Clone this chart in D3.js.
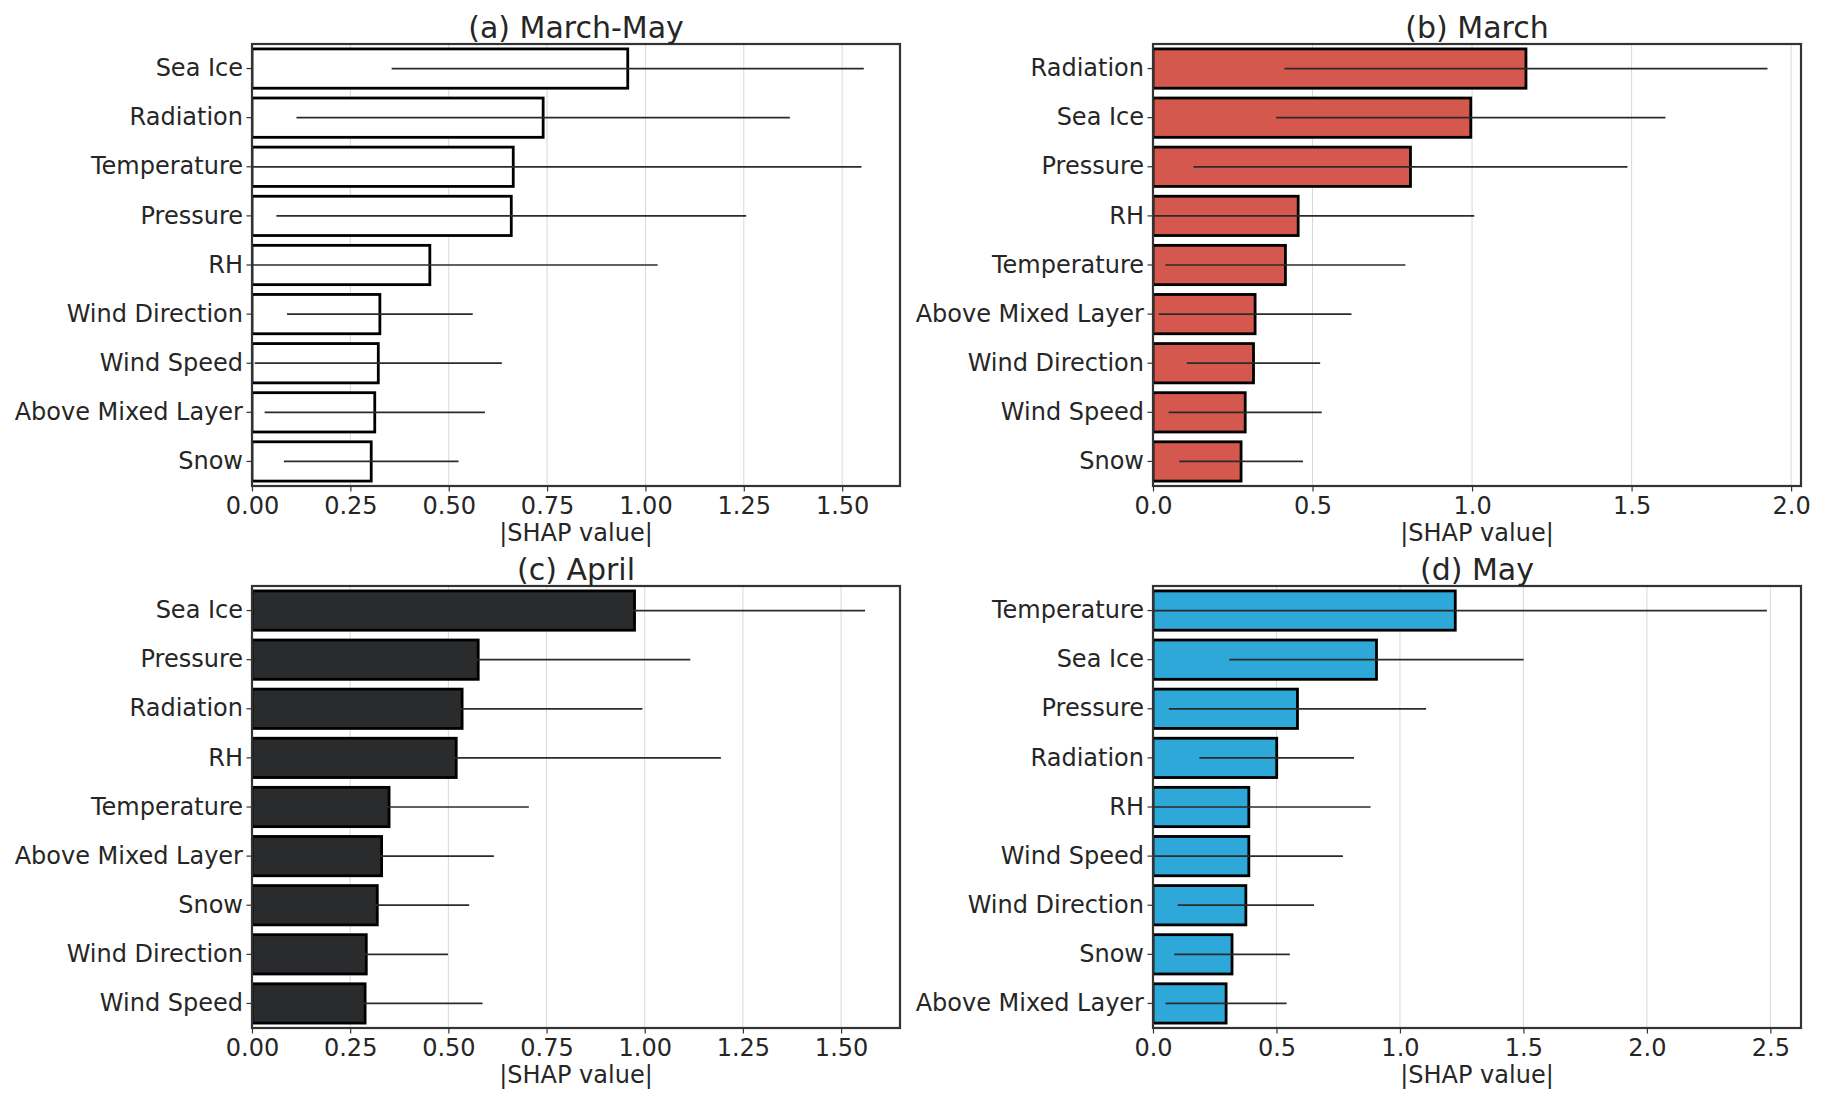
<!DOCTYPE html>
<html>
<head>
<meta charset="utf-8">
<script src="https://cdn.jsdelivr.net/npm/d3@7"></script>
<style>
  body { margin: 0; background: #fff; }
  text { font-family: "DejaVu Sans", sans-serif; fill: #262626; }
</style>
</head>
<body>
<script>
// data: mean |SHAP| and the +/- spread drawn as a line
var featuresA = ["Sea Ice", "Radiation", "Temperature", "Pressure", "RH", "Wind Direction", "Wind Speed", "Above Mixed Layer", "Snow"];
var meanA = [0.955, 0.740, 0.664, 0.659, 0.452, 0.325, 0.321, 0.312, 0.303];
var errA  = [0.600, 0.627, 0.885, 0.597, 0.579, 0.236, 0.314, 0.280, 0.222];

var featuresB = ["Radiation", "Sea Ice", "Pressure", "RH", "Temperature", "Above Mixed Layer", "Wind Direction", "Wind Speed", "Snow"];
var meanB = [1.169, 0.996, 0.807, 0.455, 0.415, 0.320, 0.315, 0.289, 0.276];
var errB  = [0.757, 0.610, 0.680, 0.552, 0.376, 0.302, 0.209, 0.240, 0.194];

var featuresC = ["Sea Ice", "Pressure", "Radiation", "RH", "Temperature", "Above Mixed Layer", "Snow", "Wind Direction", "Wind Speed"];
var meanC = [0.974, 0.576, 0.535, 0.520, 0.349, 0.330, 0.319, 0.291, 0.288];
var errC  = [0.587, 0.540, 0.459, 0.674, 0.356, 0.286, 0.234, 0.208, 0.299];

var featuresD = ["Temperature", "Sea Ice", "Pressure", "Radiation", "RH", "Wind Speed", "Wind Direction", "Snow", "Above Mixed Layer"];
var meanD = [1.224, 0.905, 0.585, 0.501, 0.388, 0.388, 0.376, 0.320, 0.296];
var errD  = [1.262, 0.596, 0.521, 0.313, 0.493, 0.381, 0.276, 0.234, 0.245];

var ticksAC = [0, 0.25, 0.5, 0.75, 1.0, 1.25, 1.5];
var ticksB  = [0, 0.5, 1.0, 1.5, 2.0];
var ticksD  = [0, 0.5, 1.0, 1.5, 2.0, 2.5];

var panels = [
  {title: "(a) March-May", feats: featuresA, mean: meanA, err: errA, xmax: 1.647, ticks: ticksAC, fmt: ".2f", fill: "#ffffff", x0: 252, y0: 44},
  {title: "(b) March",     feats: featuresB, mean: meanB, err: errB, xmax: 2.031, ticks: ticksB,  fmt: ".1f", fill: "#d4584d", x0: 1153, y0: 44},
  {title: "(c) April",     feats: featuresC, mean: meanC, err: errC, xmax: 1.650, ticks: ticksAC, fmt: ".2f", fill: "#2a2b2d", x0: 252, y0: 586},
  {title: "(d) May",       feats: featuresD, mean: meanD, err: errD, xmax: 2.624, ticks: ticksD,  fmt: ".1f", fill: "#2da8d8", x0: 1153, y0: 586}
];

var width = 648, height = 442;

var svg = d3.select("body")
  .append("svg")
    .attr("width", 1824)
    .attr("height", 1104);

panels.forEach(function(p, i) {
  var g = svg.append("g")
    .attr("transform", "translate(" + p.x0 + "," + p.y0 + ")");

  var x = d3.scaleLinear().domain([0, p.xmax]).range([0, width]);
  var y = d3.scaleBand().domain(p.feats).range([0, height])
    .paddingInner(0.2).paddingOuter(0.1);

  var rows = p.feats.map(function(f, j) {
    return {name: f, mean: p.mean[j], err: p.err[j]};
  });

  g.append("clipPath").attr("id", "clip" + i)
    .append("rect").attr("width", width).attr("height", height);

  // grid
  g.selectAll(".grid")
    .data(p.ticks.filter(function(t) { return t > 0; }))
    .enter().append("line")
    .attr("x1", d => x(d)).attr("x2", d => x(d))
    .attr("y1", 0).attr("y2", height)
    .attr("stroke", "#d9d9d9").attr("stroke-width", 1);

  var plot = g.append("g").attr("clip-path", "url(#clip" + i + ")");

  plot.selectAll(".bar")
    .data(rows)
    .enter().append("rect")
    .attr("x", x(0))
    .attr("y", d => y(d.name))
    .attr("width", d => x(d.mean) - x(0))
    .attr("height", y.bandwidth())
    .attr("fill", p.fill)
    .attr("stroke", "#000")
    .attr("stroke-width", 2.8);

  plot.selectAll(".err")
    .data(rows)
    .enter().append("line")
    .attr("x1", d => x(d.mean - d.err))
    .attr("x2", d => x(d.mean + d.err))
    .attr("y1", d => y(d.name) + y.bandwidth() / 2)
    .attr("y2", d => y(d.name) + y.bandwidth() / 2)
    .attr("stroke", "#2b2b2b")
    .attr("stroke-width", 1.7);

  var xAxis = d3.axisBottom(x).tickValues(p.ticks).tickFormat(d3.format(p.fmt))
    .tickSize(5.5).tickPadding(5);
  var yAxis = d3.axisLeft(y).tickSize(5.5).tickPadding(3.5);

  var gx = g.append("g").attr("transform", "translate(0," + height + ")").call(xAxis);
  var gy = g.append("g").call(yAxis);
  [gx, gy].forEach(function(a) {
    a.select(".domain").remove();
    a.selectAll(".tick line").attr("stroke", "#333").attr("stroke-width", 1.2);
    a.selectAll(".tick text").style("font-size", "24px").attr("fill", "#262626");
  });

  // frame
  g.append("rect")
    .attr("width", width).attr("height", height)
    .attr("fill", "none")
    .attr("stroke", "#333")
    .attr("stroke-width", 2.2);

  g.append("text")
    .attr("x", width / 2).attr("y", -6)
    .attr("text-anchor", "middle")
    .style("font-size", "30px")
    .text(p.title);

  g.append("text")
    .attr("x", width / 2).attr("y", height + 55)
    .attr("text-anchor", "middle")
    .style("font-size", "24px")
    .text("|SHAP value|");
});
</script>
</body>
</html>
